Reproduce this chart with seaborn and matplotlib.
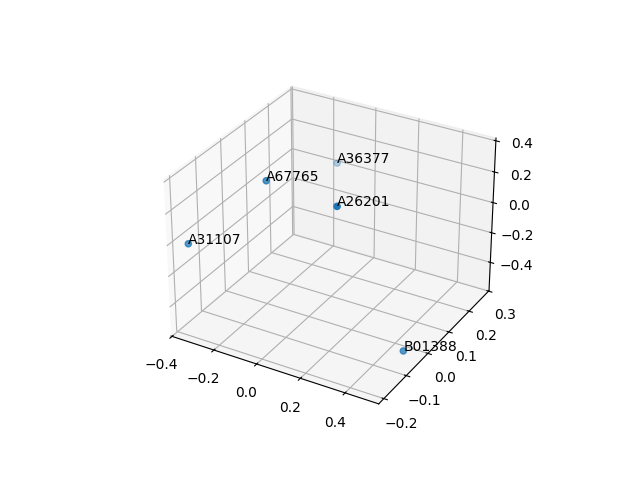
import matplotlib
matplotlib.use("Agg")
import matplotlib.pyplot as plt
import seaborn as sns

# sample ids and their 3D coordinates
labels = ["A31107", "A67765", "A36377", "A26201", "B01388"]
xs = [-0.344, -0.126, -0.148, 0.237, 0.487]
ys = [-0.189, -0.059, 0.269, -0.101, -0.052]
zs = [-0.005, 0.32, 0.036, 0.353, -0.53]

color = sns.color_palette()[0]

fig = plt.figure(figsize=(6.4, 4.8), dpi=100)
ax = fig.add_subplot(projection="3d")
ax.scatter(xs, ys, zs, color=color)

for lab, x, y, z in zip(labels, xs, ys, zs):
    ax.text(x, y, z, lab)

fig.savefig("out.png", dpi=100)
